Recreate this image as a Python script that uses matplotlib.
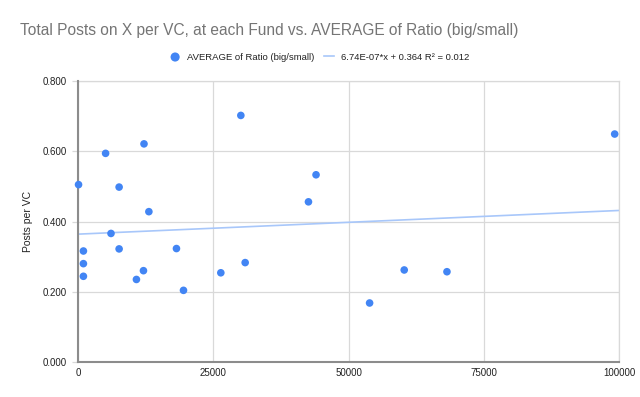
import numpy as np
import matplotlib
matplotlib.use("Agg")
import matplotlib.pyplot as plt

TITLE = "Total Posts on X per VC, at each Fund vs. AVERAGE of Ratio (big/small)"
SERIES_NAME = "AVERAGE of Ratio (big/small)"
Y_LABEL = "Posts per VC"

# total posts on X per VC (x) vs average ratio (y)
total_posts = [100, 1000, 1000, 1000, 5100, 6100, 7600, 7600, 10800, 12100,
               12200, 13100, 18200, 19500, 26400, 30100, 30900, 42600, 44000,
               53900, 60300, 68200, 99200]
avg_ratio = [0.505, 0.316, 0.280, 0.244, 0.594, 0.366, 0.498, 0.322, 0.235, 0.260,
             0.621, 0.428, 0.323, 0.204, 0.254, 0.702, 0.283, 0.456, 0.533,
             0.168, 0.262, 0.257, 0.649]

# trendline as reported in the legend
slope = 6.74e-07
intercept = 0.364
r_squared = 0.012

x_ticks = [0, 25000, 50000, 75000, 100000]
y_ticks = [0.0, 0.2, 0.4, 0.6, 0.8]

plt.rcParams["font.family"] = ["Liberation Sans", "DejaVu Sans"]

fig = plt.figure(figsize=(6.4, 3.97), dpi=100)
ax = fig.add_axes([78 / 640, 1 - 362 / 397, (619 - 78) / 640, (362 - 81) / 397])

ax.scatter(total_posts, avg_ratio, s=30, color="#4285f4", zorder=4,
           label=SERIES_NAME, edgecolors="none", clip_on=False)

tx = np.array([0, 100000])
ax.plot(tx, slope * tx + intercept, color="#a8c7fa", linewidth=1.2, zorder=2,
        label=f"{slope:.2E}*x + {intercept} R² = {r_squared}")

ax.set_xlim(0, 100000)
ax.set_ylim(0, 0.8)
ax.set_xticks(x_ticks)
ax.set_yticks(y_ticks)
ax.set_xticklabels([str(t) for t in x_ticks])
ax.set_yticklabels([f"{t:.3f}" for t in y_ticks])
ax.grid(True, color="#d9d9d9", linewidth=0.9, zorder=0)
ax.set_axisbelow(True)
for s in ["top", "right"]:
    ax.spines[s].set_color("#d9d9d9")
    ax.spines[s].set_linewidth(0.9)
for s in ["left", "bottom"]:
    ax.spines[s].set_color("#8c8c8c")
    ax.spines[s].set_linewidth(1.5)
    ax.spines[s].set_zorder(3)
ax.tick_params(axis="x", length=0, labelsize=7, colors="#222222", pad=4)
ax.tick_params(axis="y", length=4, width=0.9, color="#d9d9d9", labelsize=7,
               labelcolor="#222222", pad=4)

ax.set_ylabel(Y_LABEL, fontsize=7.5, color="#222222", labelpad=7)

fig.text(20 / 640, 1 - 30 / 397, TITLE, fontsize=11.2, color="#757575",
         ha="left", va="center")

fig.legend(loc="center", bbox_to_anchor=(0.5, 1 - 57 / 397), ncol=2, frameon=False,
           fontsize=6.8, handlelength=1.0, handletextpad=0.8, columnspacing=1.0,
           labelcolor="#222222", markerscale=1.2)

fig.savefig("out.png", dpi=100)
